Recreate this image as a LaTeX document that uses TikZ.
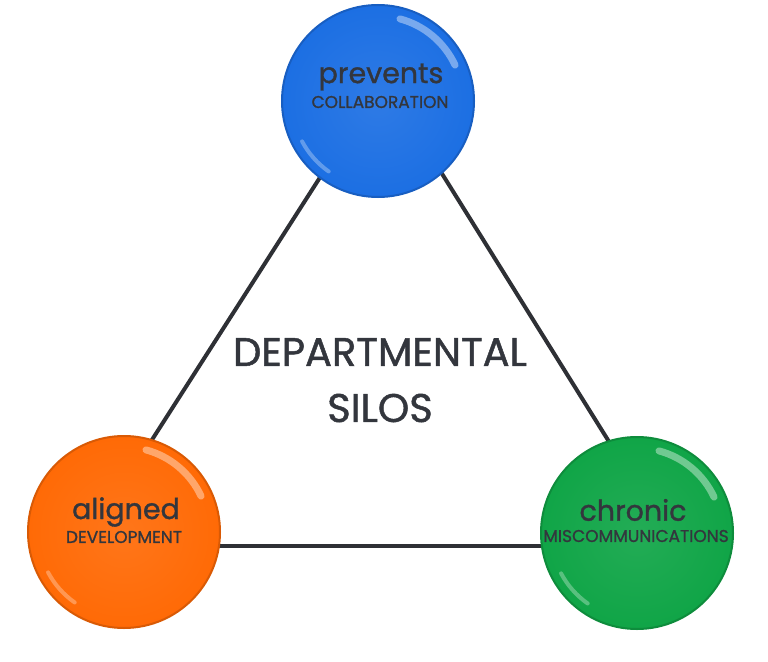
\documentclass[tikz,border=0pt]{standalone}
\usepackage{fontspec}
\setmainfont{Poppins}
\newfontfamily\pmedium[FakeBold=1.2]{Poppins}
\usetikzlibrary{calc}
\definecolor{txt}{HTML}{33363D}
\definecolor{ln}{HTML}{2E3035}
\definecolor{cblue}{HTML}{1C6FE3}
\definecolor{corange}{HTML}{FF6A06}
\definecolor{cgreen}{HTML}{10A547}
\tikzset{
  ball/.style={circle, minimum size=192pt, inner sep=0pt, draw=#1!85!black, line width=2pt,
    inner color=#1!92!white, outer color=#1},
  edge/.style={draw=ln, line width=4pt},
  big/.style={text=txt, font=\pmedium\fontsize{28.5}{28.5}\selectfont, inner sep=0pt},
  small/.style={text=txt, font=\pmedium\fontsize{17}{17}\selectfont, inner sep=0pt},
  title/.style={text=txt, font=\pmedium\fontsize{40}{40}\selectfont, inner sep=0pt},
}
\newcommand{\gloss}[1]{%
  \draw[white, opacity=0.4, line width=7pt, line cap=round] ($(#1)+(25:85pt)$) arc[start angle=25, end angle=75, radius=85pt];
  \draw[white, opacity=0.3, line width=4pt, line cap=round] ($(#1)+(208:86pt)$) arc[start angle=208, end angle=235, radius=86pt];
}
\begin{document}
\begin{tikzpicture}[x=1pt,y=-1pt]
\useasboundingbox (0,0) rectangle (768,661);
\coordinate (vt) at (383,79);
\coordinate (vl) at (84,546);
\coordinate (vr) at (674,546);
\draw[edge] (vt) -- (vl);
\draw[edge] (vt) -- (vr);
\draw[edge] (vl) -- (vr);
\node[ball=cblue] (b) at (378,101) {};
\node[ball=corange] (o) at (124,532) {};
\node[ball=cgreen] (g) at (637,533) {};
\gloss{b}\gloss{o}\gloss{g}
\node[big] (bt) at (381,77) {prevents};
\node[small] (bs) at (380,102) {COLLABORATION};
\node[big] (ot) at (126,512) {aligned};
\node[small] (os) at (124,537) {DEVELOPMENT};
\node[big] (gt) at (633,510) {chronic};
\node[small] (gs) at (636,536) {MISCOMMUNICATIONS};
\node[title] (t1) at (380,352) {DEPARTMENTAL};
\node[title] (t2) at (380,408) {SILOS};
\end{tikzpicture}
\end{document}
